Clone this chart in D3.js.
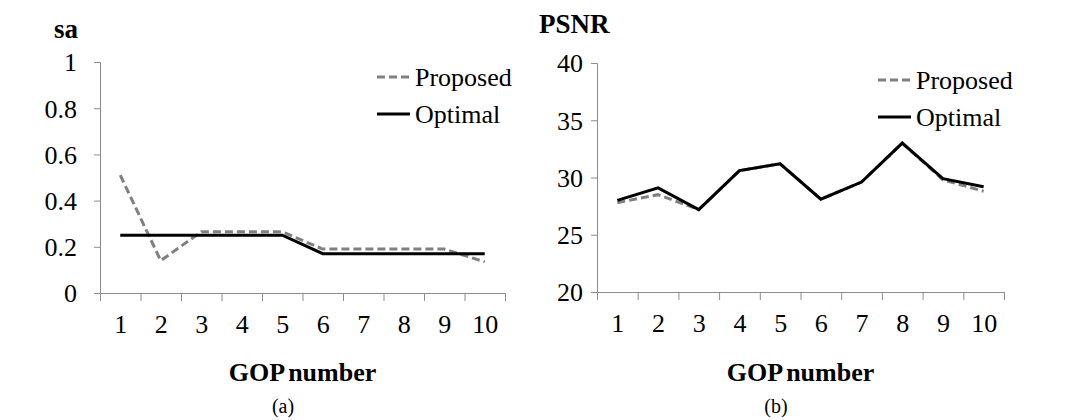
<!DOCTYPE html>
<html>
<head>
<meta charset="utf-8">
<script src="https://cdn.jsdelivr.net/npm/d3@7"></script>
<style>
  body { margin: 0; background: #fff; }
  svg text { font-family: "Liberation Serif", "Times New Roman", serif; fill: #000; }
</style>
</head>
<body>
<div id="chart"></div>
<script>
// data
const gops = [1, 2, 3, 4, 5, 6, 7, 8, 9, 10];
const saProposed = [0.51, 0.14, 0.265, 0.265, 0.265, 0.19, 0.19, 0.19, 0.19, 0.135];
const saOptimal = [0.25, 0.25, 0.25, 0.25, 0.25, 0.17, 0.17, 0.17, 0.17, 0.17];
const psnrProposed = [27.8, 28.5, 27.2, 30.6, 31.2, 28.1, 29.6, 33.0, 29.8, 28.8];
const psnrOptimal = [28.0, 29.1, 27.2, 30.6, 31.2, 28.1, 29.6, 33.0, 29.9, 29.2];
const saTicks = [0, 0.2, 0.4, 0.6, 0.8, 1];
const psnrTicks = [20, 25, 30, 35, 40];
const seriesNames = ["Proposed", "Optimal"];

const serif = '"Liberation Serif", "Times New Roman", serif';
const width = 1081;
const height = 420;

const svg = d3.select("#chart")
  .append("svg")
    .attr("width", width)
    .attr("height", height);

function drawPanel(opts) {
  const xScale = d3.scaleLinear()
    .domain([0.5, 10.5])
    .range([opts.left, opts.right]);

  const yScale = d3.scaleLinear()
    .domain(opts.domain)
    .range([opts.bottom, opts.top]);

  // y axis
  const yAxis = svg.append("g")
    .attr("transform", `translate(${opts.left},0)`)
    .call(d3.axisLeft(yScale)
      .tickValues(opts.ticks)
      .tickSize(6)
      .tickPadding(opts.yPad)
      .tickFormat(opts.format));
  yAxis.attr("font-family", serif);
  yAxis.selectAll("path, line").attr("stroke", "#8c8c8c");
  yAxis.selectAll("text")
    .style("font-family", serif)
    .style("font-size", "26px")
    .attr("dy", "0.34em");

  // x axis: ticks between categories, labels centred
  const xAxis = svg.append("g")
    .attr("transform", `translate(0,${opts.bottom})`)
    .call(d3.axisBottom(xScale)
      .tickValues(d3.range(0.5, 11, 1))
      .tickSize(8)
      .tickSizeOuter(0)
      .tickFormat(""));
  xAxis.selectAll("path, line").attr("stroke", "#8c8c8c");

  const xLabels = svg.append("g")
    .attr("transform", `translate(0,${opts.bottom})`)
    .call(d3.axisBottom(xScale)
      .tickValues(gops)
      .tickSize(0)
      .tickPadding(22)
      .tickFormat(d3.format("d")));
  xLabels.attr("font-family", serif);
  xLabels.select(".domain").remove();
  xLabels.selectAll("text")
    .style("font-family", serif)
    .style("font-size", "26px");

  const line = d3.line()
    .x((d, i) => xScale(gops[i]))
    .y(d => yScale(d));

  svg.append("path")
    .datum(opts.proposed)
    .attr("fill", "none")
    .attr("stroke", "#808080")
    .attr("stroke-width", 3)
    .attr("stroke-dasharray", "8,4")
    .attr("d", line);

  svg.append("path")
    .datum(opts.optimal)
    .attr("fill", "none")
    .attr("stroke", "#000")
    .attr("stroke-width", 3)
    .attr("d", line);

  // titles
  svg.append("text")
    .attr("x", opts.titleX)
    .attr("y", opts.titleY)
    .style("font-size", "27px")
    .style("font-weight", "bold")
    .text(opts.title);

  svg.append("text")
    .attr("x", (opts.left + opts.right) / 2)
    .attr("y", 381)
    .attr("text-anchor", "middle")
    .style("font-size", "26px")
    .style("font-weight", "bold")
    .style("word-spacing", "-2px")
    .text("GOP number");

  svg.append("text")
    .attr("x", opts.capX)
    .attr("y", 413)
    .attr("text-anchor", "middle")
    .style("font-size", "20px")
    .text(opts.caption);

  // legend
  const legend = svg.append("g")
    .attr("transform", `translate(${opts.legendX},${opts.legendY})`);
  seriesNames.forEach((name, i) => {
    const g = legend.append("g").attr("transform", `translate(0,${i * 37})`);
    g.append("line")
      .attr("x1", 0).attr("x2", 33)
      .attr("stroke", i === 0 ? "#808080" : "#000")
      .attr("stroke-width", 3)
      .attr("stroke-dasharray", i === 0 ? "8,4" : null);
    g.append("text")
      .attr("x", 38)
      .attr("y", 9)
      .style("font-size", "26px")
      .text(name);
  });
}

drawPanel({
  left: 100, right: 505, top: 62, bottom: 293,
  domain: [0, 1], ticks: saTicks, format: d => d === 0 || d === 1 ? d3.format("d")(d) : d3.format(".1f")(d),
  yPad: 17,
  proposed: saProposed, optimal: saOptimal,
  title: "sa", titleX: 54, titleY: 38,
  caption: "(a)", capX: 283,
  legendX: 377, legendY: 77
});

drawPanel({
  left: 597, right: 1004, top: 63, bottom: 292,
  domain: [20, 40], ticks: psnrTicks, format: d3.format("d"),
  yPad: 8,
  proposed: psnrProposed, optimal: psnrOptimal,
  title: "PSNR", titleX: 539, titleY: 33,
  caption: "(b)", capX: 776,
  legendX: 878, legendY: 80
});
</script>
</body>
</html>
